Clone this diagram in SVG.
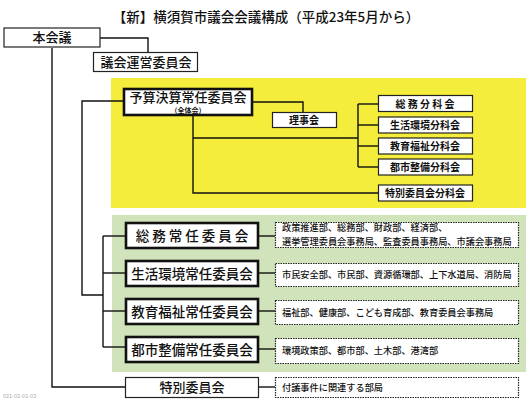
<svg xmlns="http://www.w3.org/2000/svg" width="530" height="403" viewBox="0 0 530 403">
<style>
text{font-family:"Noto Sans CJK JP","Noto Sans CJK SC",sans-serif;fill:#111;text-anchor:middle;font-weight:bold}
.thin{fill:#fff;stroke:#222;stroke-width:1.2}
.thick{fill:#fff;stroke:#111;stroke-width:2.6}
.dot{fill:#fff;stroke:#222;stroke-width:1.2;stroke-dasharray:1.5 1}
.con{fill:none;stroke:#111;stroke-width:1.4}
.t13{font-size:13px;font-weight:500}
.t14{font-size:13.5px;font-weight:500}
.t10{font-size:10px}
.t9{font-size:9.2px;text-anchor:start;font-weight:500}
</style>
<rect width="530" height="403" fill="#fff"/>
<text x="266" y="22" style="font-size:13.5px;font-weight:500">【新】横須賀市議会会議構成（平成23年5月から）</text>
<rect x="111" y="78" width="415" height="130" fill="#f4ed3c"/>
<rect x="112" y="215" width="414" height="157" fill="#d0e3ba"/>
<g id="connectors">
<polyline class="con" points="100,38 148,38 148,52"/>
<polyline class="con" points="52,48 52,387 125,387"/>
<polyline class="con" points="123,101 82,101 82,295 103,295"/>
<line class="con" x1="103" y1="236" x2="103" y2="347"/>
<line class="con" x1="103" y1="236" x2="125" y2="236"/>
<line class="con" x1="103" y1="273" x2="125" y2="273"/>
<line class="con" x1="103" y1="311" x2="125" y2="311"/>
<line class="con" x1="103" y1="347" x2="125" y2="347"/>
<polyline class="con" points="253,102 303,102 303,112"/>
<polyline class="con" points="193,116 193,193 378,193"/>
<line class="con" x1="193" y1="138" x2="358" y2="138"/>
<line class="con" x1="358" y1="104" x2="358" y2="167"/>
<line class="con" x1="358" y1="104" x2="378" y2="104"/>
<line class="con" x1="358" y1="125" x2="378" y2="125"/>
<line class="con" x1="358" y1="146" x2="378" y2="146"/>
<line class="con" x1="358" y1="167" x2="378" y2="167"/>
<line class="con" x1="259" y1="236" x2="275" y2="236"/>
<line class="con" x1="259" y1="273" x2="275" y2="273"/>
<line class="con" x1="259" y1="311" x2="275" y2="311"/>
<line class="con" x1="259" y1="349" x2="275" y2="349"/>
<line class="con" x1="259" y1="387" x2="275" y2="387"/>
</g>
<g id="honkaigi"><rect class="thin" x="4" y="28" width="96" height="19"/><text class="t13" x="52" y="42">本会議</text></g>
<g id="giunei"><rect class="thin" x="93.5" y="52.5" width="104" height="19"/><text class="t13" x="146" y="67">議会運営委員会</text></g>
<g id="yosan"><rect class="thick" x="124" y="89" width="128" height="26"/><text class="t13" x="188" y="101.5">予算決算常任委員会</text><text x="188" y="112.5" style="font-size:7px">（全体会）</text></g>
<g id="rijikai"><rect class="thin" x="272.5" y="112.5" width="64" height="15"/><text class="t10" x="304" y="124">理事会</text></g>
<g id="bun1"><rect class="thin" x="378.5" y="95.5" width="94" height="16"/><text class="t10" x="425" y="107.5">総 務 分 科 会</text></g>
<g id="bun2"><rect class="thin" x="378.5" y="117" width="94" height="16"/><text class="t10" x="425" y="129">生活環境分科会</text></g>
<g id="bun3"><rect class="thin" x="378.5" y="138" width="94" height="16"/><text class="t10" x="425" y="150">教育福祉分科会</text></g>
<g id="bun4"><rect class="thin" x="378.5" y="159" width="94" height="16"/><text class="t10" x="425" y="171">都市整備分科会</text></g>
<g id="bun5"><rect class="thin" x="378.5" y="185" width="94" height="16"/><text class="t10" x="425" y="197">特別委員会分科会</text></g>
<g id="jonin1"><rect class="thick" x="126" y="223" width="132" height="25"/><text class="t14" x="192" y="240.5">総 務 常 任 委 員 会</text></g>
<g id="jonin2"><rect class="thick" x="126" y="261" width="132" height="25"/><text class="t14" x="192" y="278.5">生活環境常任委員会</text></g>
<g id="jonin3"><rect class="thick" x="126" y="299" width="132" height="25"/><text class="t14" x="192" y="316.5">教育福祉常任委員会</text></g>
<g id="jonin4"><rect class="thick" x="126" y="337" width="132" height="25"/><text class="t14" x="192" y="354.5">都市整備常任委員会</text></g>
<g id="tokubetsu"><rect class="thin" x="125.5" y="377.5" width="133" height="20"/><text class="t13" x="192" y="392">特別委員会</text></g>
<g id="bu1"><rect class="dot" x="275.5" y="222.5" width="243" height="25"/><text class="t9" x="282" y="231">政策推進部、総務部、財政部、経済部、</text><text class="t9" x="282" y="245">選挙管理委員会事務局、監査委員事務局、市議会事務局</text></g>
<g id="bu2"><rect class="dot" x="275.5" y="263.5" width="243" height="23"/><text class="t9" x="282" y="278">市民安全部、市民部、資源循環部、上下水道局、消防局</text></g>
<g id="bu3"><rect class="dot" x="275.5" y="300.5" width="243" height="24"/><text class="t9" x="282" y="316">福祉部、健康部、こども育成部、教育委員会事務局</text></g>
<g id="bu4"><rect class="dot" x="275.5" y="338.5" width="243" height="25"/><text class="t9" x="282" y="354">環境政策部、都市部、土木部、港湾部</text></g>
<g id="bu5"><rect class="dot" x="275.5" y="377.5" width="243" height="20"/><text class="t9" x="282" y="391">付議事件に関連する部局</text></g>
<text x="3" y="398" style="font-size:5.5px;text-anchor:start;fill:#aaa;font-weight:normal">021-02-01-02</text>
</svg>
